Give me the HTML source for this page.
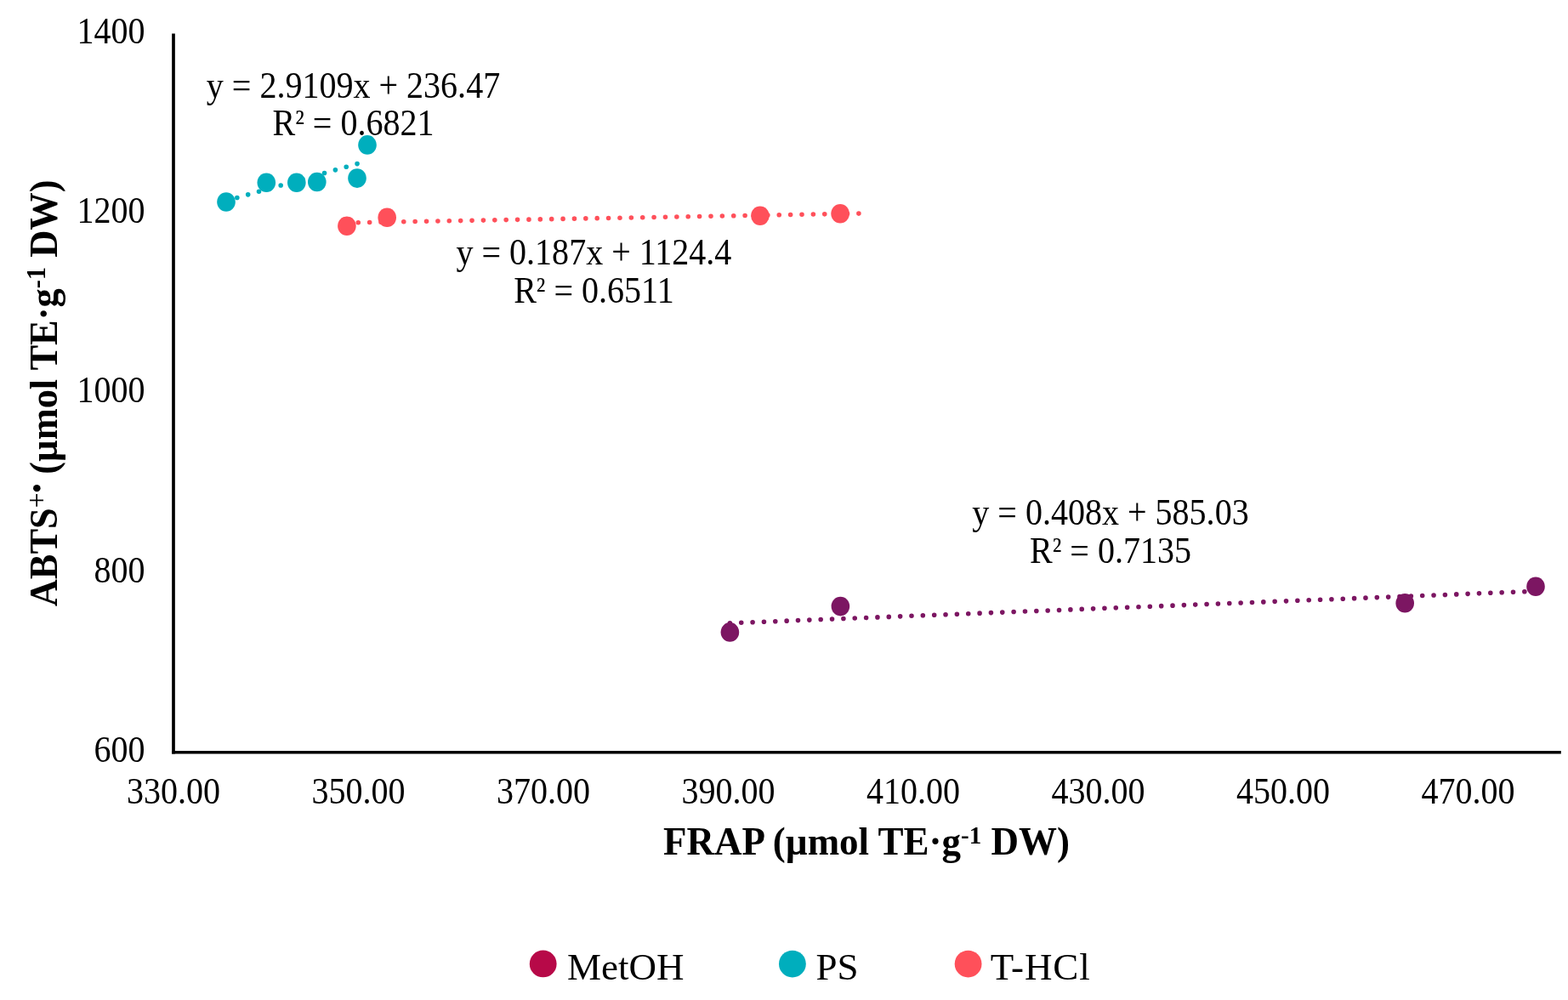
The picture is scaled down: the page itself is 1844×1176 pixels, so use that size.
<!DOCTYPE html>
<html>
<head>
<meta charset="utf-8">
<style>
html,body{margin:0;padding:0;background:#fff;}
body{width:1844px;height:1176px;overflow:hidden;}
svg{display:block;}
text{font-family:"Liberation Serif","Times New Roman",serif;fill:#000;}
.lab{font-size:44px;}
.eq{font-size:44px;}
.ttl{font-size:46.5px;font-weight:bold;}
.leg{font-size:45px;}
.sup{font-size:30px;font-weight:bold;}
.supn{font-weight:normal;}
.s2{font-size:39px;}
</style>
</head>
<body>
<svg width="1844" height="1176" viewBox="0 0 1844 1176">
<rect x="0" y="0" width="1844" height="1176" fill="#fff"/>

<!-- axes -->
<line x1="204" y1="39.5" x2="204" y2="886.6" stroke="#000" stroke-width="3.7"/>
<line x1="202.15" y1="884.75" x2="1835.8" y2="884.75" stroke="#000" stroke-width="3.7"/>

<!-- y labels -->
<g class="lab" text-anchor="end">
<text transform="translate(170.5,50.5) scale(0.91,1)">1400</text>
<text transform="translate(170.5,262) scale(0.91,1)">1200</text>
<text transform="translate(170.5,473.4) scale(0.91,1)">1000</text>
<text transform="translate(170.5,684.8) scale(0.91,1)">800</text>
<text transform="translate(170.5,896.3) scale(0.91,1)">600</text>
</g>

<!-- x labels -->
<g class="lab" text-anchor="middle">
<text transform="translate(204.1,945) scale(0.91,1)">330.00</text>
<text transform="translate(421.6,945) scale(0.91,1)">350.00</text>
<text transform="translate(639.1,945) scale(0.91,1)">370.00</text>
<text transform="translate(856.6,945) scale(0.91,1)">390.00</text>
<text transform="translate(1074.1,945) scale(0.91,1)">410.00</text>
<text transform="translate(1291.6,945) scale(0.91,1)">430.00</text>
<text transform="translate(1509.1,945) scale(0.91,1)">450.00</text>
<text transform="translate(1726.6,945) scale(0.91,1)">470.00</text>
</g>

<!-- trendlines -->
<g fill="none" stroke-width="5.6" stroke-linecap="round">
<line x1="266" y1="236.1" x2="431" y2="189.5" stroke="#00AEBD" stroke-dasharray="0 13.34"/>
<line x1="407.9" y1="262" x2="1010" y2="251.1" stroke="#FF505A" stroke-dasharray="0 13.38"/>
<line x1="858.4" y1="732.8" x2="1806" y2="695.2" stroke="#7C1662" stroke-dasharray="0 13.36"/>
</g>

<!-- markers -->
<g fill="#00AEBD">
<ellipse cx="266" cy="237.5" rx="10.8" ry="11.3"/>
<ellipse cx="313.3" cy="214.7" rx="10.8" ry="11.3"/>
<ellipse cx="348.8" cy="214.7" rx="10.8" ry="11.3"/>
<ellipse cx="372.8" cy="214" rx="10.8" ry="11.3"/>
<ellipse cx="420" cy="209.6" rx="10.8" ry="11.3"/>
<ellipse cx="432" cy="170.4" rx="10.8" ry="11.3"/>
</g>
<g fill="#FF505A">
<ellipse cx="407.9" cy="265.8" rx="10.8" ry="11.3"/>
<ellipse cx="455.2" cy="255.7" rx="10.8" ry="11.3"/>
<ellipse cx="893.9" cy="253.8" rx="10.8" ry="11.3"/>
<ellipse cx="988.1" cy="251.3" rx="10.8" ry="11.3"/>
</g>
<g fill="#7C1662">
<ellipse cx="858.4" cy="743.4" rx="10.8" ry="11.3"/>
<ellipse cx="988.4" cy="713.1" rx="10.8" ry="11.3"/>
<ellipse cx="1652.2" cy="709.2" rx="10.8" ry="11.3"/>
<ellipse cx="1806" cy="689.8" rx="10.8" ry="11.3"/>
</g>

<!-- equations -->
<g class="eq" text-anchor="middle">
<text transform="translate(415.5,114.8) scale(0.91,1)">y = 2.9109x + 236.47</text>
<text transform="translate(415.5,158.8) scale(0.91,1)">R<tspan class="s2" dy="-3">²</tspan><tspan dy="3"> = 0.6821</tspan></text>
<text transform="translate(698.4,311.4) scale(0.91,1)">y = 0.187x + 1124.4</text>
<text transform="translate(698.4,355.9) scale(0.91,1)">R<tspan class="s2" dy="-3">²</tspan><tspan dy="3"> = 0.6511</tspan></text>
<text transform="translate(1306,617.1) scale(0.91,1)">y = 0.408x + 585.03</text>
<text transform="translate(1306,662) scale(0.91,1)">R<tspan class="s2" dy="-3">²</tspan><tspan dy="3"> = 0.7135</tspan></text>
</g>

<!-- axis titles -->
<text class="ttl" text-anchor="middle" transform="translate(1019,1005) scale(0.968,1)">FRAP (µmol TE·g<tspan class="sup" dy="-13">-1</tspan><tspan dy="13"> DW)</tspan></text>
<text class="ttl" text-anchor="middle" transform="translate(66.8,462.4) rotate(-90) scale(0.955,1)">ABTS<tspan class="sup supn" dy="-13" style="font-size:33px">+</tspan><tspan class="sup" style="font-size:32px">•</tspan><tspan dy="13"> (µmol TE·g</tspan><tspan class="sup" dy="-13.5" style="font-size:32px">-1</tspan><tspan dy="13.5"> DW)</tspan></text>

<!-- legend -->
<circle cx="638.7" cy="1133.4" r="15.9" fill="#B70948"/>
<text class="leg" x="667" y="1151.5">MetOH</text>
<circle cx="931.9" cy="1133.6" r="15.9" fill="#00AEBD"/>
<text class="leg" x="959.5" y="1151.5">PS</text>
<circle cx="1138.6" cy="1133.6" r="15.9" fill="#FF505A"/>
<text class="leg" x="1164.8" y="1151.5" letter-spacing="0.9">T-HCl</text>
</svg>
</body>
</html>
